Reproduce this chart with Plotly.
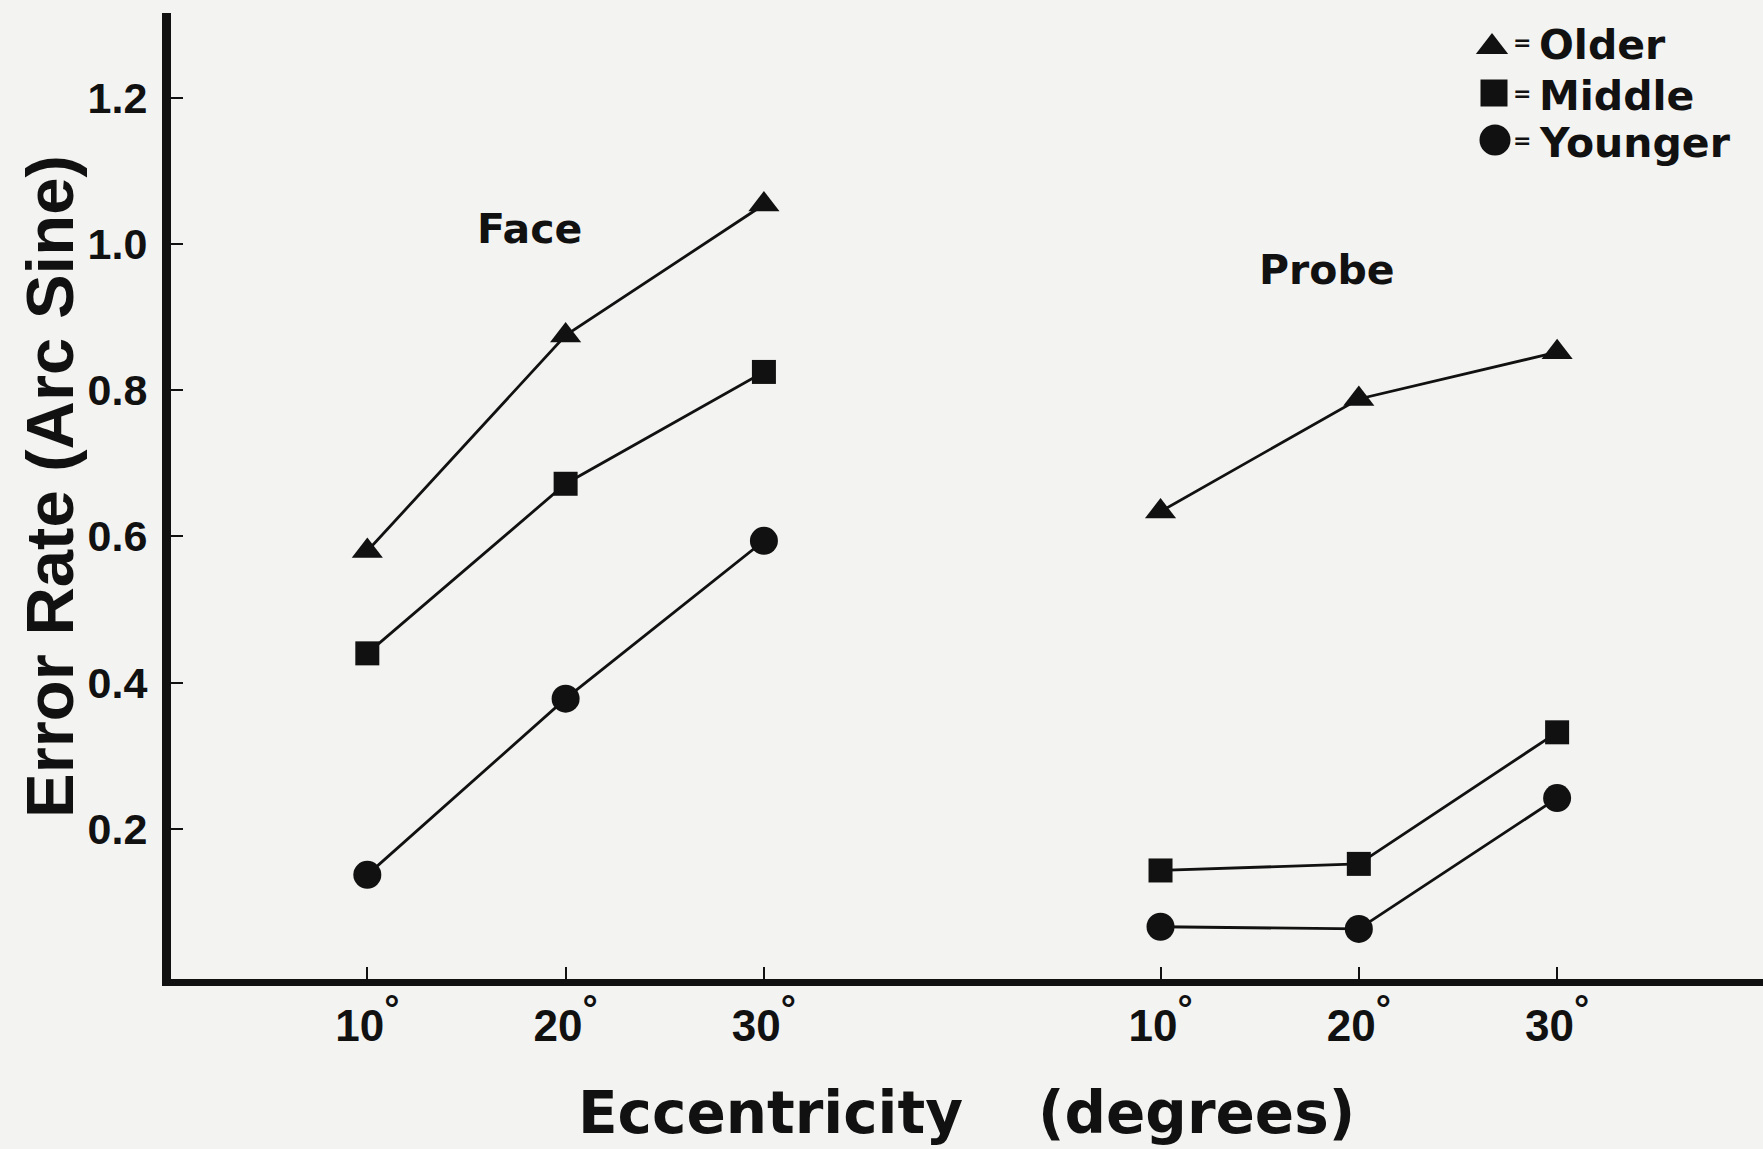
import plotly.graph_objects as go

# ---------------- data ----------------
eccentricity = [10, 20, 30]
x_tick_labels = ["10<sup><span style='font-size:38px'>°</span></sup>",
                 "20<sup><span style='font-size:38px'>°</span></sup>",
                 "30<sup><span style='font-size:38px'>°</span></sup>"]
groups = ["Older", "Middle", "Younger"]
symbols = ["triangle-up", "square", "circle"]
marker_sizes = [27, 24, 28]

face_older = [0.58, 0.875, 1.054]
face_middle = [0.44, 0.672, 0.825]
face_younger = [0.137, 0.378, 0.594]

probe_older = [0.634, 0.788, 0.852]
probe_middle = [0.143, 0.152, 0.332]
probe_younger = [0.066, 0.063, 0.242]

y_ticks = [0.2, 0.4, 0.6, 0.8, 1.0, 1.2]
y_tick_labels = ["0.2", "0.4", "0.6", "0.8", "1.0", "1.2"]

# ---------------- layout constants ----------------
W, H = 1763, 1149
L, R, T, B = 171, 0, 13, 170
FONT = "Liberation Sans, Arial, Helvetica, sans-serif"
WIDE = "DejaVu Sans, Verdana, sans-serif"
BG = "#f3f3f1"
INK = "#111111"
PX_PER_X = 198.3
X_AT_LEFT = 0.01
PX_PER_Y = 731.0
Y0_PX = 975.0

face_x = [e / 10 for e in eccentricity]
probe_x = [e / 10 + 4 for e in eccentricity]

face_series = [face_older, face_middle, face_younger]
probe_series = [probe_older, probe_middle, probe_younger]

fig = go.Figure()
for xs, series_list in ((face_x, face_series), (probe_x, probe_series)):
    for name, sym, ms, ys in zip(groups, symbols, marker_sizes, series_list):
        fig.add_trace(go.Scatter(
            x=xs, y=ys, mode="lines+markers", name=name, showlegend=False,
            line=dict(color=INK, width=2.8),
            marker=dict(symbol=sym, size=ms, color=INK, opacity=1, line=dict(width=0)),
        ))

# legend key (manual, drawn on a pixel-coordinate overlay axis)
leg_marker_x = [1492, 1494, 1495]
leg_marker_y = [47, 93, 140]
leg_sizes = [28, 27, 31]
fig.add_trace(go.Scatter(
    x=leg_marker_x, y=leg_marker_y, mode="markers", xaxis="x2", yaxis="y2",
    showlegend=False, hoverinfo="skip",
    marker=dict(symbol=symbols, size=leg_sizes, color=INK, opacity=1, line=dict(width=0)),
))

def px(xp):
    return (xp - L) / (W - L - R)

def py(yp):
    return 1 - (yp - T) / (H - T - B)

def ann(xp, yp, text, family, size, **kw):
    d = dict(x=px(xp), y=py(yp), xref="paper", yref="paper", xanchor="center",
             yanchor="middle", text=text, showarrow=False,
             font=dict(family=family, size=size, color=INK, weight="bold"))
    d.update(kw)
    return d

annotations = []
for g, yp in zip(groups, [45, 96, 143]):
    annotations.append(ann(1522, yp - 2, "=", WIDE, 22))
    annotations.append(ann(1537, yp, g, WIDE, 41, xanchor="left"))

annotations += [
    ann(529, 229, "Face", WIDE, 41),
    ann(1327, 270, "Probe", WIDE, 41),
    ann(50, 487, "Error Rate (Arc Sine)", FONT, 67, textangle=-90),
    ann(770, 1113, "Eccentricity", WIDE, 58),
    ann(1196, 1113, "(degrees)", WIDE, 58),
]

plot_w = W - L - R
x_axis_px = H - B
fig.update_layout(
    width=W, height=H,
    margin=dict(l=L, r=R, t=T, b=B, pad=0),
    paper_bgcolor=BG, plot_bgcolor=BG,
    showlegend=False,
    annotations=annotations,
    xaxis=dict(
        range=[X_AT_LEFT, X_AT_LEFT + plot_w / PX_PER_X], showgrid=False, zeroline=False,
        showline=True, linecolor=INK, linewidth=7,
        tickmode="array", tickvals=face_x + probe_x, ticktext=x_tick_labels * 2,
        ticks="inside", ticklen=12, tickwidth=2, tickcolor=INK,
        ticklabelstandoff=2,
        tickfont=dict(family=FONT, size=44, color=INK, weight="bold"),
    ),
    yaxis=dict(
        range=[-(x_axis_px - Y0_PX) / PX_PER_Y, (Y0_PX - T) / PX_PER_Y],
        showgrid=False, zeroline=False,
        showline=True, linecolor=INK, linewidth=9,
        tickmode="array", tickvals=y_ticks, ticktext=y_tick_labels,
        ticks="inside", ticklen=12, tickwidth=2, tickcolor=INK,
        ticklabelstandoff=6,
        tickfont=dict(family=FONT, size=43, color=INK, weight="bold"),
    ),
    xaxis2=dict(overlaying="x", range=[L, W - R], visible=False),
    yaxis2=dict(overlaying="y", range=[H - B, T], visible=False),
)

fig.write_html("out.html", config={"displayModeBar": False},
               post_script="document.body.style.margin='0px';")
